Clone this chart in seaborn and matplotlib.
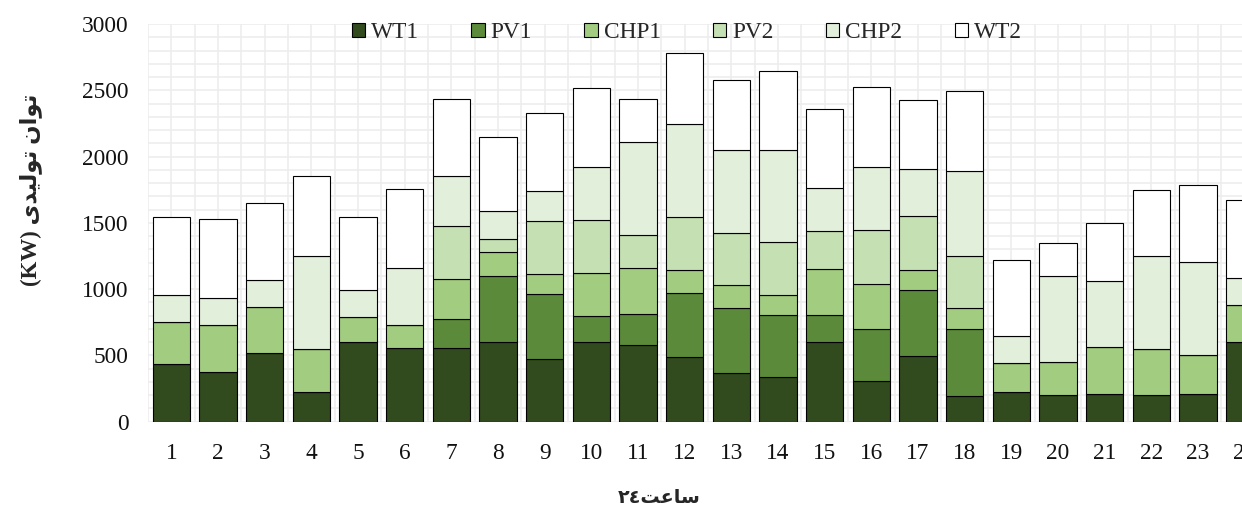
import matplotlib
matplotlib.use("Agg")
import matplotlib.pyplot as plt
import seaborn as sns
import numpy as np
from matplotlib.ticker import MultipleLocator

# ---------------- data ----------------
hours = [str(h) for h in range(1, 25)]
series_names = ["WT1", "PV1", "CHP1", "PV2", "CHP2", "WT2"]
WT1 = [437, 377, 520, 221, 600, 553, 558, 600, 470, 600, 578, 488,
       365, 339, 598, 307, 495, 196, 226, 204, 211, 201, 211, 600]
PV1 = [0, 0, 0, 0, 0, 0, 220, 500, 490, 200, 234, 483,
       490, 463, 204, 395, 500, 505, 0, 0, 0, 0, 0, 0]
CHP1 = [315, 352, 342, 327, 190, 176, 302, 179, 151, 322, 350, 171,
        173, 151, 350, 339, 153, 160, 217, 244, 350, 350, 292, 283]
PV2 = [0, 0, 0, 0, 0, 0, 398, 98, 403, 400, 244, 399,
       393, 400, 284, 402, 400, 390, 0, 0, 0, 0, 0, 0]
CHP2 = [203, 201, 204, 702, 201, 433, 377, 214, 229, 400, 701, 702,
        631, 694, 329, 481, 359, 639, 201, 648, 498, 701, 701, 198]
WT2 = [591, 596, 586, 601, 553, 593, 578, 553, 583, 598, 327, 541,
       525, 601, 591, 598, 516, 603, 576, 249, 442, 496, 579, 594]
series_values = [WT1, PV1, CHP1, PV2, CHP2, WT2]
colors = ["#314a1e", "#5a8a3a", "#a2cc80", "#c5e0b3", "#e2efda", "#ffffff"]
y_ticks = [0, 500, 1000, 1500, 2000, 2500, 3000]


# ---------------- simple Arabic-script shaping (visual order) ----------------
FORMS = {  # isolated, final, initial, medial
    "ت": ("\uFE95", "\uFE96", "\uFE97", "\uFE98"),
    "و": ("\uFEED", "\uFEEE", None, None),
    "ا": ("\uFE8D", "\uFE8E", None, None),
    "ن": ("\uFEE5", "\uFEE6", "\uFEE7", "\uFEE8"),
    "ل": ("\uFEDD", "\uFEDE", "\uFEDF", "\uFEE0"),
    "ی": ("\uFEEF", "\uFEF0", "\uFEF3", "\uFEF4"),
    "د": ("\uFEA9", "\uFEAA", None, None),
    "س": ("\uFEB1", "\uFEB2", "\uFEB3", "\uFEB4"),
    "ع": ("\uFEC9", "\uFECA", "\uFECB", "\uFECC"),
}


def shape_word(word):
    out = []
    n = len(word)
    for i, ch in enumerate(word):
        f = FORMS[ch]
        prev_join = i > 0 and FORMS[word[i - 1]][2] is not None
        next_join = i < n - 1 and f[2] is not None
        if prev_join and next_join:
            out.append(f[3])
        elif prev_join:
            out.append(f[1])
        elif next_join:
            out.append(f[2])
        else:
            out.append(f[0])
    return "".join(reversed(out))


ylabel_text = "(KW) " + shape_word("تولیدی") + " " + shape_word("توان")
xlabel_text = "\u0662\u0664" + shape_word("ساعت")

# ---------------- plotting ----------------
sns.set_theme(style="white")
plt.rcParams["font.family"] = ["Liberation Serif", "DejaVu Sans"]

FS = 16.8
fig = plt.figure(figsize=(12.42, 5.13), dpi=100)
ax = fig.add_axes([0.1192, 0.178, 0.9018, 0.7752])

bottom = np.zeros(len(hours))
for name, vals, col in zip(series_names, series_values, colors):
    sns.barplot(x=hours, y=vals, bottom=bottom, color=col, width=0.8,
                edgecolor="black", linewidth=0.8, errorbar=None,
                label=name, ax=ax, saturation=1, zorder=3)
    bottom = bottom + np.array(vals)

ax.set_xlim(-0.5, 23.5)
ax.set_ylim(0, 3000)
ax.set_yticks(y_ticks)
ax.set_yticklabels([str(t) for t in y_ticks])
ax.yaxis.set_minor_locator(MultipleLocator(100))
ax.xaxis.set_minor_locator(MultipleLocator(0.5))
ax.grid(True, which="both", color="#ededed", linewidth=1.2, zorder=0)
ax.set_axisbelow(True)
for s in ax.spines.values():
    s.set_visible(False)
ax.tick_params(axis="both", which="both", length=0)
ax.tick_params(axis="y", pad=14, labelsize=FS, labelcolor="#111111")
ax.tick_params(axis="x", pad=15, labelsize=FS, labelcolor="#111111")
ax.set_xlabel("")
ax.set_ylabel("")

handles, labels = ax.get_legend_handles_labels()
leg = ax.legend(handles, labels, loc="center", ncol=6, frameon=False,
                bbox_to_anchor=(0.553, 0.936), bbox_transform=fig.transFigure,
                fontsize=FS, handlelength=0.56, handleheight=0.56,
                handletextpad=0.26, columnspacing=2.25)
for h in leg.legend_handles:
    h.set_edgecolor("black")
    h.set_linewidth(0.8)

fig.text(0.025, 0.63, ylabel_text, rotation=90, ha="center", va="center",
         fontsize=16.5, fontweight="bold", family=["Liberation Serif", "DejaVu Sans"])
fig.text(0.531, 0.03, xlabel_text, ha="center", va="center",
         fontsize=13.8, fontweight="bold", family=["DejaVu Sans"])

fig.savefig("out.png", dpi=100)
